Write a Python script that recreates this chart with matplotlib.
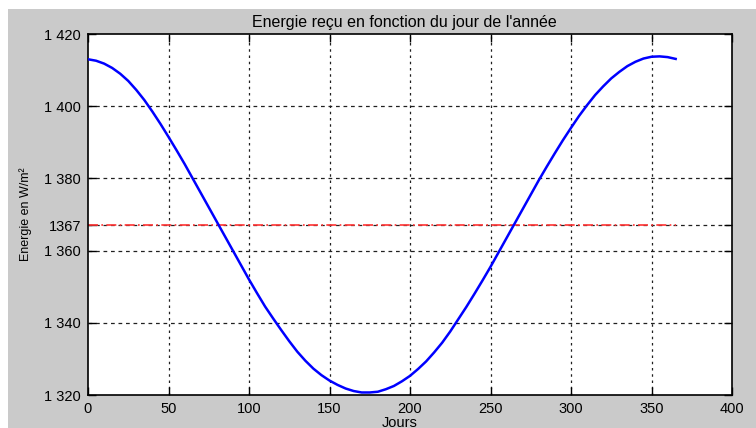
import matplotlib
matplotlib.use("Agg")
import matplotlib.pyplot as plt
from matplotlib.patches import Rectangle

days = [0, 5, 10, 15, 20, 25, 30, 35, 40, 45, 50, 55, 60, 65, 70, 75, 80, 85, 90,
        95, 100, 105, 110, 115, 120, 125, 130, 135, 140, 145, 150, 155, 160, 165,
        170, 175, 180, 185, 190, 195, 200, 205, 210, 215, 220, 225, 230, 235, 240,
        245, 250, 255, 260, 265, 270, 275, 280, 285, 290, 295, 300, 305, 310, 315,
        320, 325, 330, 335, 340, 345, 350, 355, 360, 365]
energy = [1413.0, 1412.6, 1411.8, 1410.6, 1409.0, 1407.0, 1404.5, 1401.7, 1398.5,
          1395.1, 1391.5, 1387.8, 1384.0, 1380.0, 1376.0, 1372.0, 1368.0, 1364.0,
          1360.0, 1356.0, 1352.0, 1348.2, 1344.5, 1341.2, 1338.0, 1334.9, 1332.0,
          1329.5, 1327.3, 1325.5, 1324.0, 1322.8, 1321.8, 1321.1, 1320.7, 1320.7,
          1320.9, 1321.6, 1322.5, 1323.8, 1325.3, 1327.2, 1329.3, 1331.8, 1334.5,
          1337.6, 1341.0, 1344.4, 1348.0, 1351.7, 1355.5, 1359.5, 1363.5, 1367.5,
          1371.5, 1375.5, 1379.5, 1383.3, 1387.0, 1390.6, 1394.0, 1397.3, 1400.3,
          1403.1, 1405.5, 1407.7, 1409.5, 1411.1, 1412.3, 1413.2, 1413.7, 1413.8,
          1413.6, 1413.1]
ref_days = [0, 365]
ref_value = 1367
xticks = [0, 50, 100, 150, 200, 250, 300, 350, 400]
yticks = [1320, 1340, 1360, 1367, 1380, 1400, 1420]
ytick_labels = ["1 320", "1 340", "1 360", "1367", "1 380", "1 400", "1 420"]

plt.rcParams['font.family'] = ['Liberation Sans', 'DejaVu Sans']

W, H = 756, 428
fig = plt.figure(figsize=(W / 100, H / 100), dpi=100, facecolor='white')
fig.patches.append(Rectangle((8 / W, 0), 1 - 8 / W, (H - 9) / H,
                             transform=fig.transFigure, facecolor='#cacaca',
                             edgecolor='none', zorder=-10))

ax = fig.add_axes([88 / W, 1 - 395 / H, (732 - 88) / W, (395 - 34) / H])
ax.set_facecolor('white')

ax.plot(days, energy, color='#0000ff', lw=1.8, zorder=3)
ax.plot(ref_days, [ref_value, ref_value], color='#ff3333', lw=1.2,
        linestyle=(0, (6, 2, 1, 2)), zorder=2)

ax.set_xlim(0, 400)
ax.set_ylim(1320, 1420)
ax.set_xticks(xticks)
ax.set_yticks(yticks)
ax.set_yticklabels(ytick_labels)

for x in xticks[1:-1]:
    ax.axvline(x, color='#202020', lw=0.9, linestyle=(0, (2, 3)), zorder=1)
for y in yticks[1:-1]:
    ax.axhline(y, color='#202020', lw=0.9, linestyle=(0, (3, 3)), zorder=1)

ax.tick_params(direction='in', length=6, width=1, top=True, right=True,
               labelsize=10.5, pad=5, colors='black')
for s in ax.spines.values():
    s.set_linewidth(1.2)
    s.set_color('black')

ax.set_title("Energie reçu en fonction du jour de l'année", fontsize=11.5, pad=5,
             x=(404 - 88) / 644)
ax.set_xlabel("Jours", fontsize=10.5)
ax.xaxis.set_label_coords((400 - 88) / 644, -(416 - 395) / 361)
ax.set_ylabel("Energie en W/m²", fontsize=9, labelpad=9)

fig.savefig("out.png", dpi=100, facecolor=fig.get_facecolor())
